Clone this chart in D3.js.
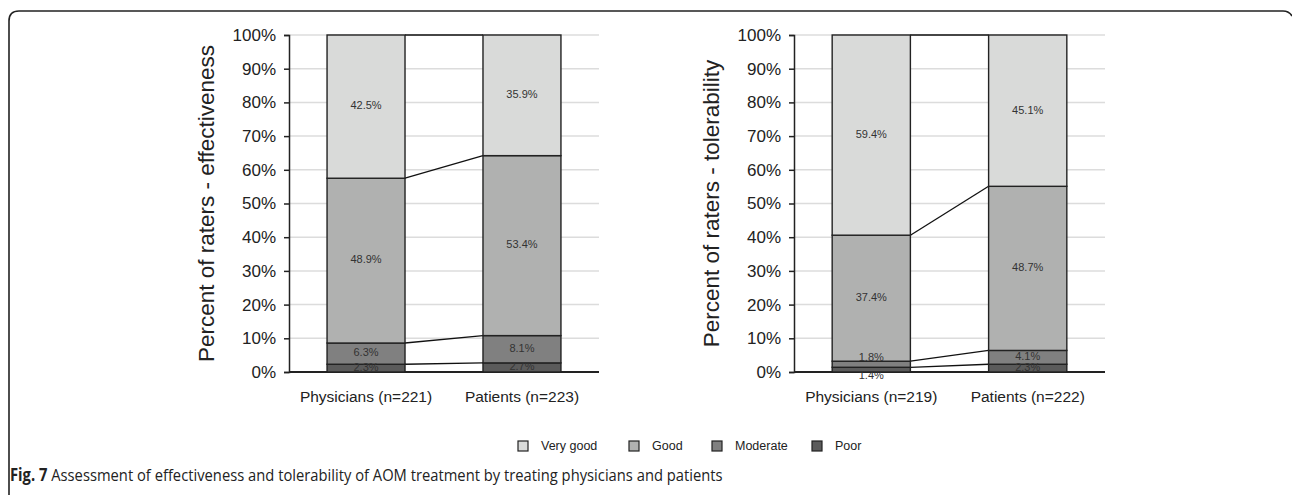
<!DOCTYPE html>
<html><head><meta charset="utf-8">
<script src="https://cdn.jsdelivr.net/npm/d3@7"></script>
<style>body{margin:0;background:#fff}svg{display:block}</style>
</head><body>
<svg id="c" width="1292" height="495"></svg>
<script>
const levels = ["Poor","Moderate","Good","Very good"];
const legendOrder = ["Very good","Good","Moderate","Poor"];
const colors = ["#5b5b5b","#808080","#b0b1b0","#d9dad9"];
const effCategories = ["Physicians (n=221)","Patients (n=223)"];
const effPhysicians = [2.3,6.3,48.9,42.5];
const effPatients = [2.7,8.1,53.4,35.9];
const tolCategories = ["Physicians (n=219)","Patients (n=222)"];
const tolPhysicians = [1.4,1.8,37.4,59.4];
const tolPatients = [2.3,4.1,48.7,45.1];
const yTicks = [0,10,20,30,40,50,60,70,80,90,100];

const svg = d3.select("#c");
const color = d3.scaleOrdinal().domain(levels).range(colors);
const font = "'Liberation Sans', Arial, sans-serif";

// frame
svg.append("path").attr("d","M9,495 V21 Q9,11 19,11 H1283 Q1289,11 1292,16")
  .attr("fill","none").attr("stroke","#222").attr("stroke-width",1.6);

function chart(x0, x1, cats, series, title) {
  const g = svg.append("g");
  const y = d3.scaleLinear().domain([0,100]).range([372,35]);
  const x = d3.scaleBand().domain(cats).range([x0,x1]).paddingInner(0.5).paddingOuter(0.244);
  // grid
  g.selectAll("line.grid").data(yTicks.filter(t=>t>0)).enter().append("line")
    .attr("x1",x0).attr("x2",x1).attr("y1",d=>y(d)).attr("y2",d=>y(d))
    .attr("stroke","#dcdcdc").attr("stroke-width",1.5);
  // y axis
  const ax = g.append("g").attr("transform",`translate(${x0},0)`)
    .call(d3.axisLeft(y).tickValues(yTicks).tickFormat(d=>d+"%").tickSize(5).tickPadding(8));
  ax.select(".domain").attr("stroke","#222").attr("stroke-width",1.5);
  ax.selectAll(".tick line").attr("stroke","#222").attr("stroke-width",1.5);
  ax.selectAll(".tick text").attr("font-family",font).attr("font-size",17).attr("fill","#222");
  // x baseline
  g.append("line").attr("x1",x0).attr("x2",x1).attr("y1",y(0)).attr("y2",y(0))
    .attr("stroke","#222").attr("stroke-width",1.8);
  // stacks
  const stacks = series.map(vals => {
    let c = 0;
    return vals.map((v,i)=>{const s={lo:c,hi:c+v,v,i}; c+=v; return s;});
  });
  // connectors
  for (let i=0;i<4;i++) {
    const a = stacks[0][i].hi, b = stacks[1][i].hi;
    g.append("line").attr("x1",x(cats[0])+x.bandwidth()).attr("x2",x(cats[1]))
      .attr("y1",y(Math.min(a,100))).attr("y2",y(Math.min(b,100)))
      .attr("stroke","#111").attr("stroke-width",1.3);
  }
  stacks.forEach((st,k)=>{
    const bx = x(cats[k]);
    g.selectAll(null).data(st).enter().append("rect")
      .attr("x",bx).attr("width",x.bandwidth())
      .attr("y",d=>y(Math.min(d.hi,100))).attr("height",d=>y(d.lo)-y(Math.min(d.hi,100)))
      .attr("fill",d=>color(levels[d.i])).attr("stroke","#222").attr("stroke-width",1.4);
    // labels with simple collision avoidance
    const pos = st.map(d=>y((d.lo+Math.min(d.hi,100))/2));
    for (let i=0;i<pos.length-1;i++){
      if (pos[i]-pos[i+1] < 10) {
        const m=(pos[i]+pos[i+1])/2; pos[i]=m+9; pos[i+1]=m-9;
      }
    }
    g.selectAll(null).data(st).enter().append("text")
      .attr("x",bx+x.bandwidth()/2).attr("y",(d,i)=>pos[i]-1)
      .attr("dy","0.35em").attr("text-anchor","middle")
      .attr("font-family",font).attr("font-size",11).attr("fill","#333")
      .text(d=>d.v.toFixed(1)+"%");
    g.append("text").attr("x",bx+x.bandwidth()/2).attr("y",402)
      .attr("text-anchor","middle").attr("font-family",font).attr("font-size",15.5).attr("fill","#222")
      .text(cats[k]);
  });
  g.append("text").attr("transform",`translate(${x0-75},${(y(0)+y(100))/2}) rotate(-90)`)
    .attr("text-anchor","middle").attr("font-family",font).attr("font-size",22.5).attr("fill","#222")
    .text(title);
}
chart(289, 599, effCategories, [effPhysicians, effPatients], "Percent of raters - effectiveness");
chart(794, 1105, tolCategories, [tolPhysicians, tolPatients], "Percent of raters - tolerability");

// legend
const legX = [523, 634, 717, 817];
const lg = svg.append("g");
legendOrder.forEach((name,i)=>{
  lg.append("rect").attr("x",legX[i]-5).attr("y",441).attr("width",10).attr("height",10)
    .attr("fill",color(name)).attr("stroke","#222").attr("stroke-width",1.2);
  lg.append("text").attr("x",legX[i]+18).attr("y",446).attr("dy","0.35em")
    .attr("font-family",font).attr("font-size",12.5).attr("fill","#222").text(name);
});

// caption
const cap = svg.append("text").attr("transform","translate(10,481) scale(0.868,1)")
  .attr("font-family","'Open Sans',sans-serif").attr("font-size",17).attr("fill","#222");
cap.append("tspan").attr("font-weight","bold").text("Fig. 7");
cap.append("tspan").text(" Assessment of effectiveness and tolerability of AOM treatment by treating physicians and patients");
</script>
</body></html>
